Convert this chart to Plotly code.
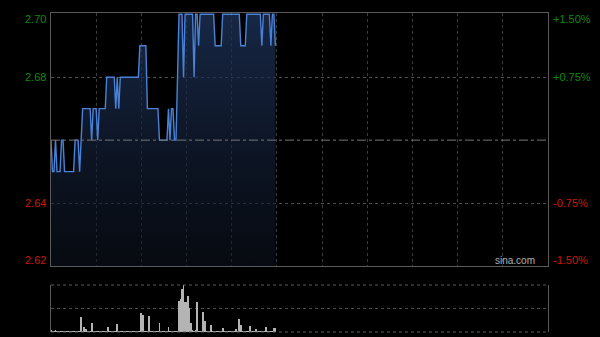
import plotly.graph_objects as go

prev_close = 2.66
price = [
    2.66, 2.65, 2.65, 2.66, 2.65, 2.65, 2.65, 2.66, 2.66, 2.65,
    2.65, 2.65, 2.65, 2.65, 2.65, 2.65, 2.66, 2.66, 2.66, 2.65,
    2.66, 2.67, 2.67, 2.67, 2.67, 2.67, 2.67, 2.66, 2.67, 2.67,
    2.67, 2.66, 2.67, 2.67, 2.67, 2.67, 2.67, 2.68, 2.68, 2.68,
    2.68, 2.68, 2.68, 2.67, 2.68, 2.67, 2.68, 2.68, 2.68, 2.68,
    2.68, 2.68, 2.68, 2.68, 2.68, 2.68, 2.68, 2.68, 2.68, 2.69,
    2.69, 2.69, 2.69, 2.69, 2.67, 2.67, 2.67, 2.67, 2.67, 2.67,
    2.67, 2.67, 2.66, 2.66, 2.66, 2.66, 2.66, 2.66, 2.67, 2.66,
    2.67, 2.67, 2.66, 2.66, 2.68, 2.70, 2.70, 2.70, 2.68, 2.70,
    2.70, 2.70, 2.70, 2.70, 2.70, 2.68, 2.70, 2.70, 2.69, 2.70,
    2.70, 2.70, 2.70, 2.70, 2.70, 2.70, 2.70, 2.70, 2.70, 2.69,
    2.69, 2.69, 2.69, 2.69, 2.70, 2.70, 2.70, 2.70, 2.70, 2.70,
    2.70, 2.70, 2.70, 2.70, 2.70, 2.70, 2.69, 2.69, 2.69, 2.69,
    2.70, 2.70, 2.70, 2.70, 2.70, 2.70, 2.70, 2.70, 2.70, 2.70,
    2.69, 2.70, 2.70, 2.70, 2.70, 2.70, 2.69, 2.70, 2.70, 2.69,
]
volume = [
    20, 6, 4, 16, 5, 3, 4, 12, 3, 5,
    4, 3, 5, 4, 3, 6, 4, 5, 8, 10,
    124, 8, 44, 24, 6, 10, 5, 80, 6, 4,
    8, 5, 4, 6, 3, 5, 4, 8, 44, 6,
    4, 3, 5, 10, 68, 4, 3, 5, 4, 3,
    4, 3, 5, 3, 4, 3, 5, 4, 6, 8,
    160, 144, 6, 4, 8, 136, 5, 4, 3, 6,
    4, 8, 80, 6, 4, 3, 5, 6, 44, 8,
    5, 6, 4, 8, 12, 268, 280, 364, 400, 252,
    252, 308, 208, 80, 20, 12, 16, 252, 10, 8,
    12, 172, 96, 10, 8, 6, 60, 8, 5, 6,
    4, 6, 5, 4, 32, 6, 4, 5, 6, 4,
    5, 6, 8, 24, 10, 108, 60, 8, 6, 5,
    4, 8, 52, 6, 5, 4, 24, 6, 5, 4,
    6, 5, 8, 40, 6, 5, 8, 10, 32, 32,
]
minutes = list(range(len(price)))
session_minutes = 330
price_ticks = [2.70, 2.68, 2.64, 2.62]
y_min, y_max = 2.62, 2.70
vol_max = 400

GREEN = "#0c8a0c"
RED = "#c81a0a"
FONT = "Liberation Sans, Arial, sans-serif"
pad = 0.0004  # keep the top price line visible under the frame

fig = go.Figure()
fig.add_trace(go.Scatter(x=minutes, y=[y_min] * len(minutes), mode="lines",
                         line=dict(width=0, color="rgba(0,0,0,0)"),
                         hoverinfo="skip", showlegend=False, xaxis="x", yaxis="y"))
fig.add_trace(go.Scatter(
    x=minutes, y=price, mode="lines", fill="tonexty",
    line=dict(color="#4a82d6", width=1.4),
    fillgradient=dict(type="vertical", start=y_min, stop=y_max,
                      colorscale=[[0, "rgba(12,18,30,0.55)"], [1, "rgba(30,52,92,0.75)"]]),
    showlegend=False, xaxis="x", yaxis="y"))
fig.add_trace(go.Bar(x=minutes, y=volume, marker=dict(color="#b4b4b4", line=dict(width=0)),
                     width=0.55, showlegend=False, xaxis="x2", yaxis="y2"))

fig.add_shape(type="line", xref="x", yref="y", x0=0, x1=session_minutes, y0=prev_close, y1=prev_close,
              line=dict(color="#777777", width=1, dash="dashdot"))
for yy in (0, 1):
    fig.add_shape(type="line", xref="x2 domain", yref="y2 domain", x0=0, x1=1, y0=yy, y1=yy,
                  line=dict(color="#5a5a5a", width=1, dash="dot"))

annotations = []
for v in price_ticks:
    col = GREEN if v > prev_close else RED
    shift = -5 if v == y_max else (6 if v == y_min else 0)
    annotations.append(dict(text=f"{v:.2f}", xref="paper", yref="y", x=0, y=v, xanchor="right",
                            yanchor="middle", xshift=-3, yshift=shift, showarrow=False,
                            font=dict(color=col, size=11, family=FONT)))
    pct = (v - prev_close) / prev_close * 100
    annotations.append(dict(text=f"{pct:+.2f}%", xref="paper", yref="y", x=1, y=v, xanchor="left",
                            yanchor="middle", xshift=3, yshift=shift, showarrow=False,
                            font=dict(color=col, size=11, family=FONT)))
annotations.append(dict(text="sina.com", xref="paper", yref="paper", x=0.978, y=0.226,
                        xanchor="right", yanchor="middle", showarrow=False,
                        font=dict(color="#b0b0b0", size=10, family=FONT)))

fig.update_layout(
    width=600, height=337, margin=dict(l=51, r=52, t=0, b=0),
    paper_bgcolor="#000000", plot_bgcolor="#000000",
    annotations=annotations, bargap=0,
    xaxis=dict(domain=[0, 1], range=[0, session_minutes], dtick=30, tick0=0,
               showgrid=True, gridcolor="#3c3c3c", griddash="dot", gridwidth=1,
               showticklabels=False, ticks="", zeroline=False,
               showline=True, mirror=True, linecolor="#5a5a5a", linewidth=1),
    yaxis=dict(domain=[0.2107, 0.9614], range=[y_min, y_max + pad], tickvals=[2.64, 2.68],
               showgrid=True, gridcolor="#505050", griddash="dot", gridwidth=1,
               showticklabels=False, ticks="", zeroline=False,
               showline=True, mirror=True, linecolor="#5a5a5a", linewidth=1),
    xaxis2=dict(domain=[0, 1], range=[0, session_minutes], anchor="y2",
                showgrid=False, showticklabels=False, ticks="", zeroline=False, showline=False),
    yaxis2=dict(domain=[0.0148, 0.1543], range=[0, vol_max], anchor="x2",
                tickvals=[vol_max / 2],
                showgrid=True, gridcolor="#505050", griddash="dot", gridwidth=1,
                showticklabels=False, ticks="", zeroline=False,
                showline=True, mirror=True, linecolor="#5a5a5a", linewidth=1),
)

fig.write_html("out.html")
